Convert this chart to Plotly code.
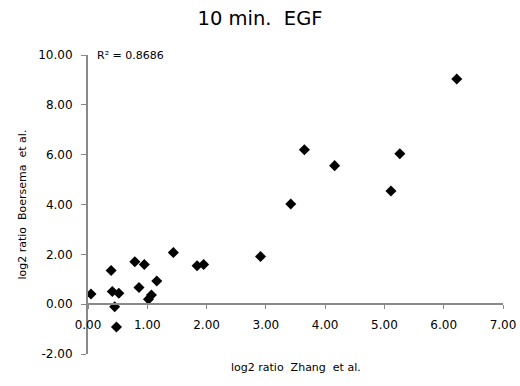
import plotly.graph_objects as go

# Data
zhang_x = [0.05, 0.39, 0.41, 0.52, 0.45, 0.48, 0.79, 0.95, 0.86, 1.02, 1.07, 1.16,
           1.44, 1.84, 1.95, 2.91, 3.42, 3.65, 4.16, 5.11, 5.26, 6.22]
boersema_y = [0.41, 1.35, 0.51, 0.44, -0.10, -0.92, 1.70, 1.59, 0.67, 0.20, 0.37, 0.93,
              2.07, 1.54, 1.59, 1.91, 4.02, 6.20, 5.56, 4.54, 6.04, 9.04]
x_ticks = [0, 1, 2, 3, 4, 5, 6, 7]
y_ticks = [-2, 0, 2, 4, 6, 8, 10]
x_tick_labels = [f"{v:.2f}" for v in x_ticks]
y_tick_labels = [f"{v:.2f}" for v in y_ticks]
title_text = "10 min.  EGF"
r2_text = "R² = 0.8686"
x_title = "log2 ratio  Zhang  et al."
y_title = "log2 ratio  Boersema  et al."

FONT = "DejaVu Sans"
AX = "#898989"

fig = go.Figure()
fig.add_trace(go.Scatter(
    x=zhang_x, y=boersema_y, mode="markers",
    marker=dict(symbol="diamond", size=8.5, color="black", line=dict(width=0)),
    showlegend=False, hoverinfo="x+y",
))

fig.update_layout(
    width=520, height=386,
    margin=dict(l=88, r=17, t=55, b=32, autoexpand=False),
    paper_bgcolor="white", plot_bgcolor="white",
    font=dict(family=FONT, size=12, color="black"),
    title=dict(text=title_text, x=0.5, xanchor="center", xref="container",
               y=1 - 18 / 386, yanchor="middle", yref="container",
               font=dict(size=19.5, family=FONT, color="black"),
               automargin=False),
    xaxis=dict(range=[0, 7], tickvals=x_ticks, ticktext=x_tick_labels,
               showline=True, linecolor=AX, linewidth=2, ticks="outside",
               tickcolor=AX, ticklen=4, tickwidth=1, showgrid=False, zeroline=False,
               anchor="free", position=2 / 12, ticklabelstandoff=5, automargin=False,
               tickfont=dict(size=12, family=FONT, color="black")),
    yaxis=dict(range=[-2, 10], tickvals=y_ticks, ticktext=y_tick_labels,
               showline=True, linecolor=AX, linewidth=2, ticks="outside",
               tickcolor=AX, ticklen=5, tickwidth=1, showgrid=False, zeroline=False,
               domain=[0, 1], ticklabelstandoff=6, automargin=False,
               tickfont=dict(size=12, family=FONT, color="black")),
    annotations=[
        dict(text=r2_text, xref="paper", yref="paper", x=0.017, y=1.0,
             xanchor="left", yanchor="middle", showarrow=False,
             font=dict(size=11, family=FONT, color="black")),
        dict(text=x_title, xref="paper", yref="paper", x=0.5, y=-13 / 299,
             xanchor="center", yanchor="middle", showarrow=False,
             font=dict(size=11, family=FONT, color="black")),
        dict(text=y_title, xref="paper", yref="paper", x=-66 / 415.6, y=0.5,
             xanchor="center", yanchor="middle", showarrow=False, textangle=-90,
             font=dict(size=11, family=FONT, color="black")),
    ],
)

fig.write_html("out.html", config={"displayModeBar": False},
               post_script="document.body.style.margin='0';")
